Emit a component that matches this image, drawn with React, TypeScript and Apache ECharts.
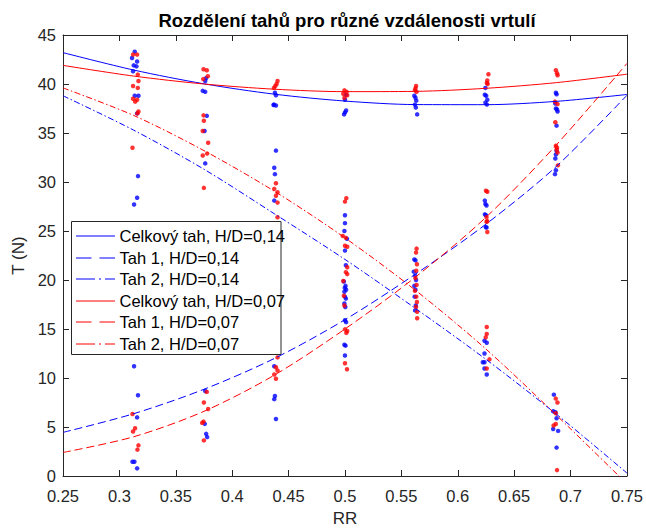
import React, { useEffect, useRef } from "react";
import * as echarts from "echarts";

// ---- Data ----
const xTicks = [0.25, 0.3, 0.35, 0.4, 0.45, 0.5, 0.55, 0.6, 0.65, 0.7, 0.75];

// Fitted curves, sampled at the measurement positions
const xCurve = [0.25, 0.3125, 0.375, 0.4375, 0.5, 0.5625, 0.625, 0.6875, 0.75];
const totalH014 = [43.2, 41.43, 40.02, 38.96, 38.26, 37.9, 37.89, 38.23, 38.93];
const tah1H014 = [4.45, 6.35, 8.85, 12.0, 15.95, 20.6, 25.7, 31.6, 38.85];
const tah2H014 = [38.8, 35.3, 31.3, 26.75, 22.1, 17.1, 11.9, 6.3, 0.3];
const totalH007 = [41.9, 40.81, 40.0, 39.47, 39.22, 39.25, 39.56, 40.14, 41.0];
const tah1H007 = [2.4, 4.0, 6.6, 10.3, 15.0, 20.3, 26.4, 33.8, 42.1];
const tah2H007 = [39.6, 36.8, 33.2, 29.05, 24.3, 18.95, 12.95, 6.2, -0.8];

// Measured points, H/D = 0,14 (blue)
const blueDots: [number, number][] = [
  [0.3136, 43.3], [0.3112, 42.65], [0.3157, 42.3], [0.3127, 41.9], [0.3151, 41.8], [0.3121, 41.3],
  [0.3136, 38.8], [0.3169, 38.8], [0.3157, 37.0], [0.3165, 30.6], [0.3157, 28.4], [0.313, 27.7],
  [0.313, 11.2], [0.3165, 8.24], [0.3157, 5.98], [0.3116, 1.45], [0.3133, 1.45], [0.3157, 0.78],
  [0.3769, 40.6], [0.3761, 40.3], [0.3739, 39.3], [0.3761, 39.2], [0.3775, 36.75], [0.3755, 35.2],
  [0.3761, 31.9], [0.3761, 8.68], [0.3757, 5.32], [0.3769, 4.3], [0.3778, 3.97],
  [0.4379, 39.1], [0.4388, 38.85], [0.437, 37.9], [0.4388, 37.8], [0.4367, 37.85], [0.4388, 33.2],
  [0.4373, 31.45], [0.4379, 30.8], [0.4373, 28.1], [0.4373, 11.2], [0.4379, 8.17], [0.4373, 7.84], [0.4388, 5.82],
  [0.501, 38.9], [0.5, 38.4], [0.501, 37.3], [0.5, 37.1], [0.4992, 36.9],
  [0.5, 26.6], [0.5, 25.8], [0.4995, 25.0], [0.5018, 24.2], [0.5, 23.0], [0.5008, 21.5], [0.499, 19.85],
  [0.5005, 19.4], [0.4998, 19.2], [0.501, 19.0], [0.4995, 18.8], [0.5, 18.3], [0.5008, 18.1], [0.4995, 17.6],
  [0.5003, 17.25], [0.5, 15.9], [0.501, 15.7], [0.4995, 13.4], [0.5005, 13.3], [0.5, 12.3],
  [0.5615, 38.8], [0.5625, 38.6], [0.5632, 38.3], [0.562, 37.9], [0.5628, 37.6], [0.564, 36.9],
  [0.5615, 22.1], [0.5625, 22.0], [0.561, 20.85], [0.5622, 20.45], [0.563, 20.0], [0.5615, 19.4],
  [0.5625, 19.0], [0.5618, 18.3], [0.5628, 17.4], [0.5622, 16.9],
  [0.6245, 39.6], [0.624, 38.9], [0.6252, 38.8], [0.6262, 38.4], [0.6245, 38.1], [0.6258, 37.9],
  [0.624, 28.1], [0.6245, 27.75], [0.6255, 27.6], [0.624, 26.7], [0.625, 26.6], [0.6248, 25.4], [0.6255, 25.35],
  [0.6237, 13.8], [0.6257, 13.6], [0.6237, 12.5], [0.6222, 11.6], [0.6237, 11.6], [0.6237, 10.97], [0.6257, 10.36],
  [0.687, 39.1], [0.6876, 38.95], [0.6865, 38.0], [0.687, 37.5], [0.688, 37.4], [0.6885, 37.2], [0.6876, 35.75],
  [0.6876, 33.2], [0.687, 32.8], [0.6865, 32.4], [0.687, 31.2], [0.6862, 30.8],
  [0.6852, 8.3], [0.6846, 6.6], [0.6866, 6.5], [0.6876, 5.9], [0.6846, 4.8], [0.689, 4.6], [0.6876, 2.9],
];

// Measured points, H/D = 0,07 (red)
const redDots: [number, number][] = [
  [0.3121, 43.0], [0.3157, 43.0], [0.3163, 40.96], [0.3169, 40.3], [0.3121, 39.8], [0.3163, 39.6],
  [0.3121, 38.5], [0.3157, 38.4], [0.314, 38.2], [0.3169, 37.2], [0.316, 37.0], [0.3116, 33.5],
  [0.3116, 6.33], [0.3139, 4.87], [0.3121, 4.54], [0.3169, 3.13], [0.316, 2.69],
  [0.3746, 41.5], [0.3775, 41.4], [0.3784, 40.8], [0.3743, 40.5], [0.3746, 36.8], [0.3749, 36.25],
  [0.3739, 35.2], [0.3787, 34.0], [0.3778, 32.9], [0.3739, 32.7], [0.3749, 29.4], [0.3775, 8.58],
  [0.3749, 7.5], [0.3787, 6.83], [0.3746, 5.55], [0.3734, 5.42], [0.3749, 3.63],
  [0.4402, 40.3], [0.4394, 40.0], [0.4382, 39.8], [0.437, 39.6], [0.4388, 29.87], [0.4373, 29.3],
  [0.4402, 28.96], [0.4388, 28.6], [0.4402, 27.9], [0.4402, 26.4], [0.4402, 12.1], [0.4388, 11.1],
  [0.4402, 10.76], [0.4373, 10.36], [0.4388, 9.92],
  [0.4995, 39.35], [0.5015, 39.2], [0.4985, 39.0], [0.502, 38.85], [0.4995, 38.6],
  [0.5012, 28.35], [0.5, 28.0], [0.498, 24.5], [0.5008, 24.3], [0.5, 23.5], [0.502, 23.4], [0.502, 21.3],
  [0.5008, 20.8], [0.502, 20.6], [0.4985, 19.9], [0.499, 18.4], [0.4995, 17.4], [0.5, 14.96], [0.502, 14.8],
  [0.5012, 14.6], [0.5, 11.5], [0.5018, 10.9],
  [0.563, 39.8], [0.5625, 39.55], [0.562, 39.35], [0.5635, 39.2],
  [0.5635, 23.2], [0.563, 22.8], [0.5638, 21.6], [0.5632, 20.95], [0.5625, 20.2], [0.5635, 19.5],
  [0.562, 18.9], [0.5632, 18.3], [0.5638, 17.75], [0.563, 17.25], [0.564, 16.75], [0.564, 16.1],
  [0.6272, 41.0], [0.6262, 40.35], [0.6258, 40.1], [0.6265, 40.0],
  [0.625, 29.1], [0.6262, 29.0], [0.6255, 26.4], [0.6262, 26.0], [0.6255, 25.95], [0.6262, 24.9],
  [0.6257, 15.2], [0.6257, 14.5], [0.6248, 14.15], [0.6281, 11.9], [0.6257, 10.97],
  [0.687, 41.4], [0.688, 41.1], [0.6885, 40.9], [0.6862, 38.2], [0.6885, 37.95], [0.6865, 36.1],
  [0.687, 33.7], [0.688, 33.5], [0.6876, 33.3], [0.6885, 33.0], [0.6888, 31.7],
  [0.6869, 7.9], [0.6884, 7.5], [0.6869, 6.4], [0.6869, 5.3], [0.685, 5.15], [0.688, 0.6],
];

const seriesNames = [
  "Celkový tah, H/D=0,14",
  "Tah 1, H/D=0,14",
  "Tah 2, H/D=0,14",
  "Celkový tah, H/D=0,07",
  "Tah 1, H/D=0,07",
  "Tah 2, H/D=0,07",
];

const titleText = "Rozdělení tahů pro různé vzdálenosti vrtulí";
const xName = "RR";
const yName = "T (N)";

const FONT = "'Liberation Sans', Arial, Helvetica, sans-serif";
const AX = "#262626";
const BLUE = "rgb(0,0,255)";
const RED = "rgb(255,0,0)";

const lineColors = [BLUE, BLUE, BLUE, RED, RED, RED];
const lineKinds = ["solid", "dash", "dashdot", "solid", "dash", "dashdot"];
const curves = [totalH014, tah1H014, tah2H014, totalH007, tah1H007, tah2H007];

const plotDash = (kind: string): any =>
  kind === "dash" ? [8, 4] : kind === "dashdot" ? [6, 2.5, 1.5, 2.5] : "solid";
const legendDash = (kind: string): number[] | null =>
  kind === "dash" ? [15.5, 8] : kind === "dashdot" ? [19, 4, 2, 4] : null;

const pairs = (ys: number[]) => xCurve.map((x, i) => [x, ys[i]]);

export default function App() {
  const ref = useRef<HTMLDivElement>(null);
  useEffect(() => {
    if (!ref.current) return;
    const chart = echarts.init(ref.current, undefined, { renderer: "svg" });
    const fmt = (v: number) => String(parseFloat(v.toFixed(2)));
    const baseX = {
      type: "value" as const,
      min: xTicks[0],
      max: xTicks[xTicks.length - 1],
      interval: 0.05,
      splitLine: { show: false },
      axisLine: { show: true, onZero: false, lineStyle: { color: AX, width: 1 } },
      axisTick: { show: true, inside: true, length: 6, lineStyle: { color: AX } },
    };
    const baseY = {
      type: "value" as const,
      min: 0,
      max: 45,
      interval: 5,
      splitLine: { show: false },
      axisLine: { show: true, onZero: false, lineStyle: { color: AX, width: 1 } },
      axisTick: { show: true, inside: true, length: 6, lineStyle: { color: AX } },
    };

    // Hand-built legend (MATLAB style box)
    const legLeft = 71.5;
    const legTop = 221.5;
    const rowH = 21.5;
    const legendChildren: any[] = [
      {
        type: "rect",
        id: "leg-box",
        shape: { x: legLeft, y: legTop, width: 209.5, height: 133 },
        style: { fill: "#ffffff", stroke: AX, lineWidth: 1 },
      },
    ];
    seriesNames.forEach((name, i) => {
      const cy = legTop + 14.5 + i * rowH;
      const ly = Math.round(cy);
      const dash = legendDash(lineKinds[i]);
      const x0 = legLeft + 4.5;
      const x1 = legLeft + 43.5;
      if (!dash) {
        legendChildren.push({
          type: "line",
          id: "leg-line-" + i,
          shape: { x1: x0, y1: ly, x2: x1, y2: ly },
          style: { stroke: lineColors[i], lineWidth: 1 },
        });
      } else {
        let pos = x0;
        let k = 0;
        while (pos < x1) {
          const len = dash[k % dash.length];
          if (k % 2 === 0) {
            legendChildren.push({
              type: "line",
              id: "leg-line-" + i + "-" + k,
              shape: { x1: pos, y1: ly, x2: Math.min(pos + len, x1), y2: ly },
              style: { stroke: lineColors[i], lineWidth: 1 },
            });
          }
          pos += len;
          k++;
        }
      }
      legendChildren.push({
        type: "text",
        id: "leg-text-" + i,
        x: legLeft + 48,
        y: cy,
        style: {
          text: name,
          fontSize: 16.5,
          fontFamily: FONT,
          fill: "#000000",
          align: "left",
          verticalAlign: "middle",
        },
      });
    });

    const option: any = {
      animation: false,
      backgroundColor: "#ffffff",
      textStyle: { fontFamily: FONT },
      grid: { left: 63, right: 17, top: 35, bottom: 51, containLabel: false },
      xAxis: [
        {
          ...baseX,
          position: "bottom",
          axisLabel: { show: true, fontSize: 16.5, color: AX, margin: 11, fontFamily: FONT, formatter: fmt },
          name: xName,
          nameLocation: "middle",
          nameGap: 34,
          nameTextStyle: { fontSize: 17, color: AX, fontFamily: FONT },
        },
        { ...baseX, position: "top", axisLabel: { show: false } },
      ],
      yAxis: [
        {
          ...baseY,
          position: "left",
          axisLabel: { show: true, fontSize: 16.5, color: AX, margin: 7, fontFamily: FONT },
          name: yName,
          nameLocation: "middle",
          nameGap: 36,
          nameTextStyle: { fontSize: 17, color: AX, fontFamily: FONT },
        },
        { ...baseY, position: "right", axisLabel: { show: false } },
      ],
      graphic: [
        {
          type: "text",
          id: "title",
          z: 100,
          x: 347,
          y: 20,
          style: {
            text: titleText,
            fontSize: 18.5,
            fontWeight: "bold",
            fontFamily: FONT,
            fill: "#000000",
            align: "center",
            verticalAlign: "middle",
          },
        },
        {
          type: "group",
          id: "legend-group",
          z: 100,
          children: legendChildren,
        },
      ],
      series: [
        {
          name: "blue-points",
          type: "scatter",
          data: blueDots,
          symbol: "circle",
          symbolSize: 4.5,
          itemStyle: { color: BLUE },
          z: 2,
        },
        {
          name: "red-points",
          type: "scatter",
          data: redDots,
          symbol: "circle",
          symbolSize: 4.5,
          itemStyle: { color: RED },
          z: 2,
        },
        ...seriesNames.map((name, i) => ({
          name,
          type: "line",
          data: pairs(curves[i]),
          smooth: 0.3,
          symbol: "none",
          clip: true,
          lineStyle: { color: lineColors[i], width: 1, type: plotDash(lineKinds[i]) },
          itemStyle: { color: lineColors[i] },
          z: 3,
        })),
      ],
    };
    chart.setOption(option);
    return () => chart.dispose();
  }, []);
  return (
    <div
      ref={ref}
      style={{ position: "fixed", left: 0, top: 0, width: 646, height: 532, background: "#fff" }}
    />
  );
}
